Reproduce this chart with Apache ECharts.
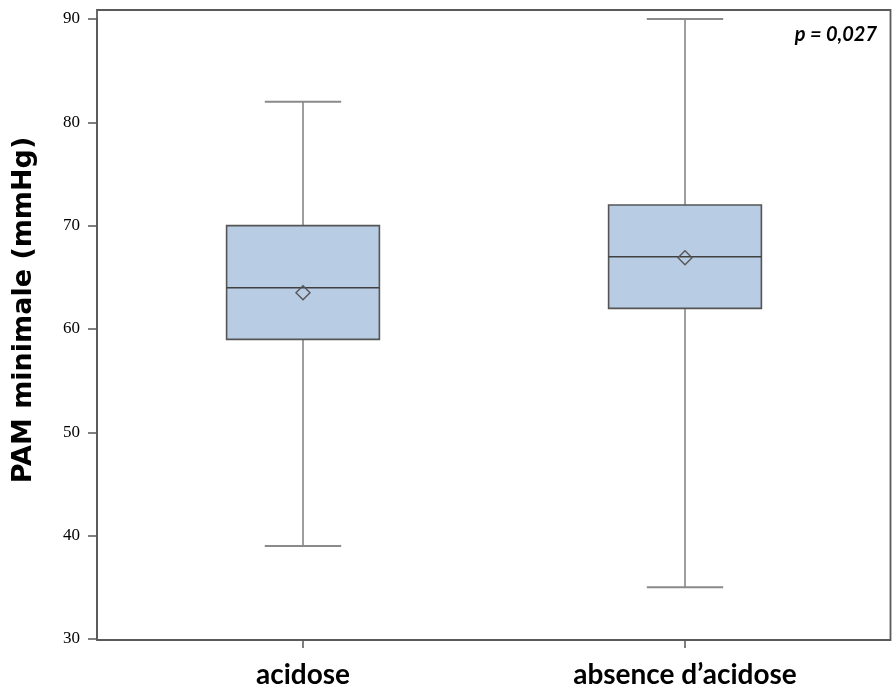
<!DOCTYPE html>
<html>
<head>
<meta charset="utf-8">
<script src="https://cdn.jsdelivr.net/npm/echarts@6/dist/echarts.min.js"></script>
<style>
html,body{margin:0;padding:0;background:#fff;}
#chart{width:892px;height:693px;}
</style>
</head>
<body>
<div id="chart"></div>
<script>
// ---- data ----
var categories = ['acidose', 'absence d\u2019acidose'];
var whiskerLow = [39, 35];
var q1Values = [59, 62];
var medianValues = [64, 67];
var q3Values = [70, 72];
var whiskerHigh = [82, 90];
var meanValues = [63.5, 66.9];
var yMin = 30, yMax = 90, yStep = 10;
var yAxisTitle = 'PAM minimale (mmHg)';
var pValueText = 'p = 0,027';

var seriesData = categories.map(function (c, i) {
  return [i, whiskerLow[i], q1Values[i], medianValues[i], q3Values[i], whiskerHigh[i], meanValues[i]];
});

var chart = echarts.init(document.getElementById('chart'), null, {renderer: 'canvas'});

function renderBox(params, api) {
  var x = api.value(0);
  var band = api.size([1, 0])[0];
  var boxW = band * 0.40;
  var capW = band * 0.20;
  var pMin = api.coord([x, api.value(1)]);
  var pQ1 = api.coord([x, api.value(2)]);
  var pMed = api.coord([x, api.value(3)]);
  var pQ3 = api.coord([x, api.value(4)]);
  var pMax = api.coord([x, api.value(5)]);
  var pMean = api.coord([x, api.value(6)]);
  var cx = pMed[0];
  var whiskerStyle = {stroke: '#6a6a6a', lineWidth: 1.3};
  var capStyle = {stroke: '#8a8a8a', lineWidth: 2};
  var d = 7;
  return {
    type: 'group',
    children: [
      {type: 'line', shape: {x1: cx, y1: pMax[1], x2: cx, y2: pQ3[1]}, style: whiskerStyle},
      {type: 'line', shape: {x1: cx, y1: pQ1[1], x2: cx, y2: pMin[1]}, style: whiskerStyle},
      {type: 'line', shape: {x1: cx - capW / 2, y1: pMax[1], x2: cx + capW / 2, y2: pMax[1]}, style: capStyle},
      {type: 'line', shape: {x1: cx - capW / 2, y1: pMin[1], x2: cx + capW / 2, y2: pMin[1]}, style: capStyle},
      {type: 'rect', shape: {x: cx - boxW / 2, y: pQ3[1], width: boxW, height: pQ1[1] - pQ3[1]},
        style: {fill: '#b8cce4', stroke: '#555555', lineWidth: 1.6}},
      {type: 'line', shape: {x1: cx - boxW / 2, y1: pMed[1], x2: cx + boxW / 2, y2: pMed[1]},
        style: {stroke: '#404040', lineWidth: 1.5}},
      {type: 'polygon', shape: {points: [[cx, pMean[1] - d], [cx + d, pMean[1]], [cx, pMean[1] + d], [cx - d, pMean[1]]]},
        style: {fill: 'none', stroke: '#555555', lineWidth: 1.4}}
    ]
  };
}

var option = {
  backgroundColor: '#ffffff',
  animation: false,
  grid: {left: 112, right: 16, top: 19, bottom: 54, containLabel: false, outerBoundsMode: 'none'},
  xAxis: {
    type: 'category',
    data: categories,
    boundaryGap: true,
    axisLine: {show: false},
    axisTick: {show: true, alignWithLabel: true, length: 9, lineStyle: {color: '#555', width: 1.5}},
    axisLabel: {
      margin: 22,
      color: '#000',
      fontFamily: 'Lato',
      fontWeight: 'bold',
      fontSize: 28
    },
    splitLine: {show: false}
  },
  yAxis: {
    type: 'value',
    min: yMin,
    max: yMax,
    interval: yStep,
    offset: 15,
    name: yAxisTitle,
    nameLocation: 'middle',
    nameGap: 60,
    nameRotate: 90,
    nameTextStyle: {color: '#000', fontFamily: 'DejaVu Sans', fontWeight: 'bold', fontSize: 27, padding: [0, 0, 0, 38]},
    axisLine: {show: true, lineStyle: {color: '#5a5a5a', width: 1.8}},
    axisTick: {show: true, length: 9, lineStyle: {color: '#555', width: 1.5}},
    axisLabel: {
      margin: 17,
      color: '#000',
      fontFamily: 'Liberation Serif',
      fontSize: 17
    },
    splitLine: {show: false}
  },
  graphic: [
    {
      type: 'rect',
      shape: {x: 97, y: 10, width: 793.5, height: 630},
      style: {fill: 'none', stroke: '#5a5a5a', lineWidth: 1.8},
      silent: true,
      z: 10
    },
    {
      type: 'text',
      right: 15,
      top: 25,
      style: {
        text: pValueText,
        fill: '#000',
        font: 'italic bold 20px Lato'
      },
      z: 11
    }
  ],
  series: [{
    type: 'custom',
    renderItem: renderBox,
    data: seriesData,
    encode: {x: 0, y: [1, 2, 3, 4, 5, 6]},
    clip: false
  }]
};
chart.setOption(option);
</script>
</body>
</html>
